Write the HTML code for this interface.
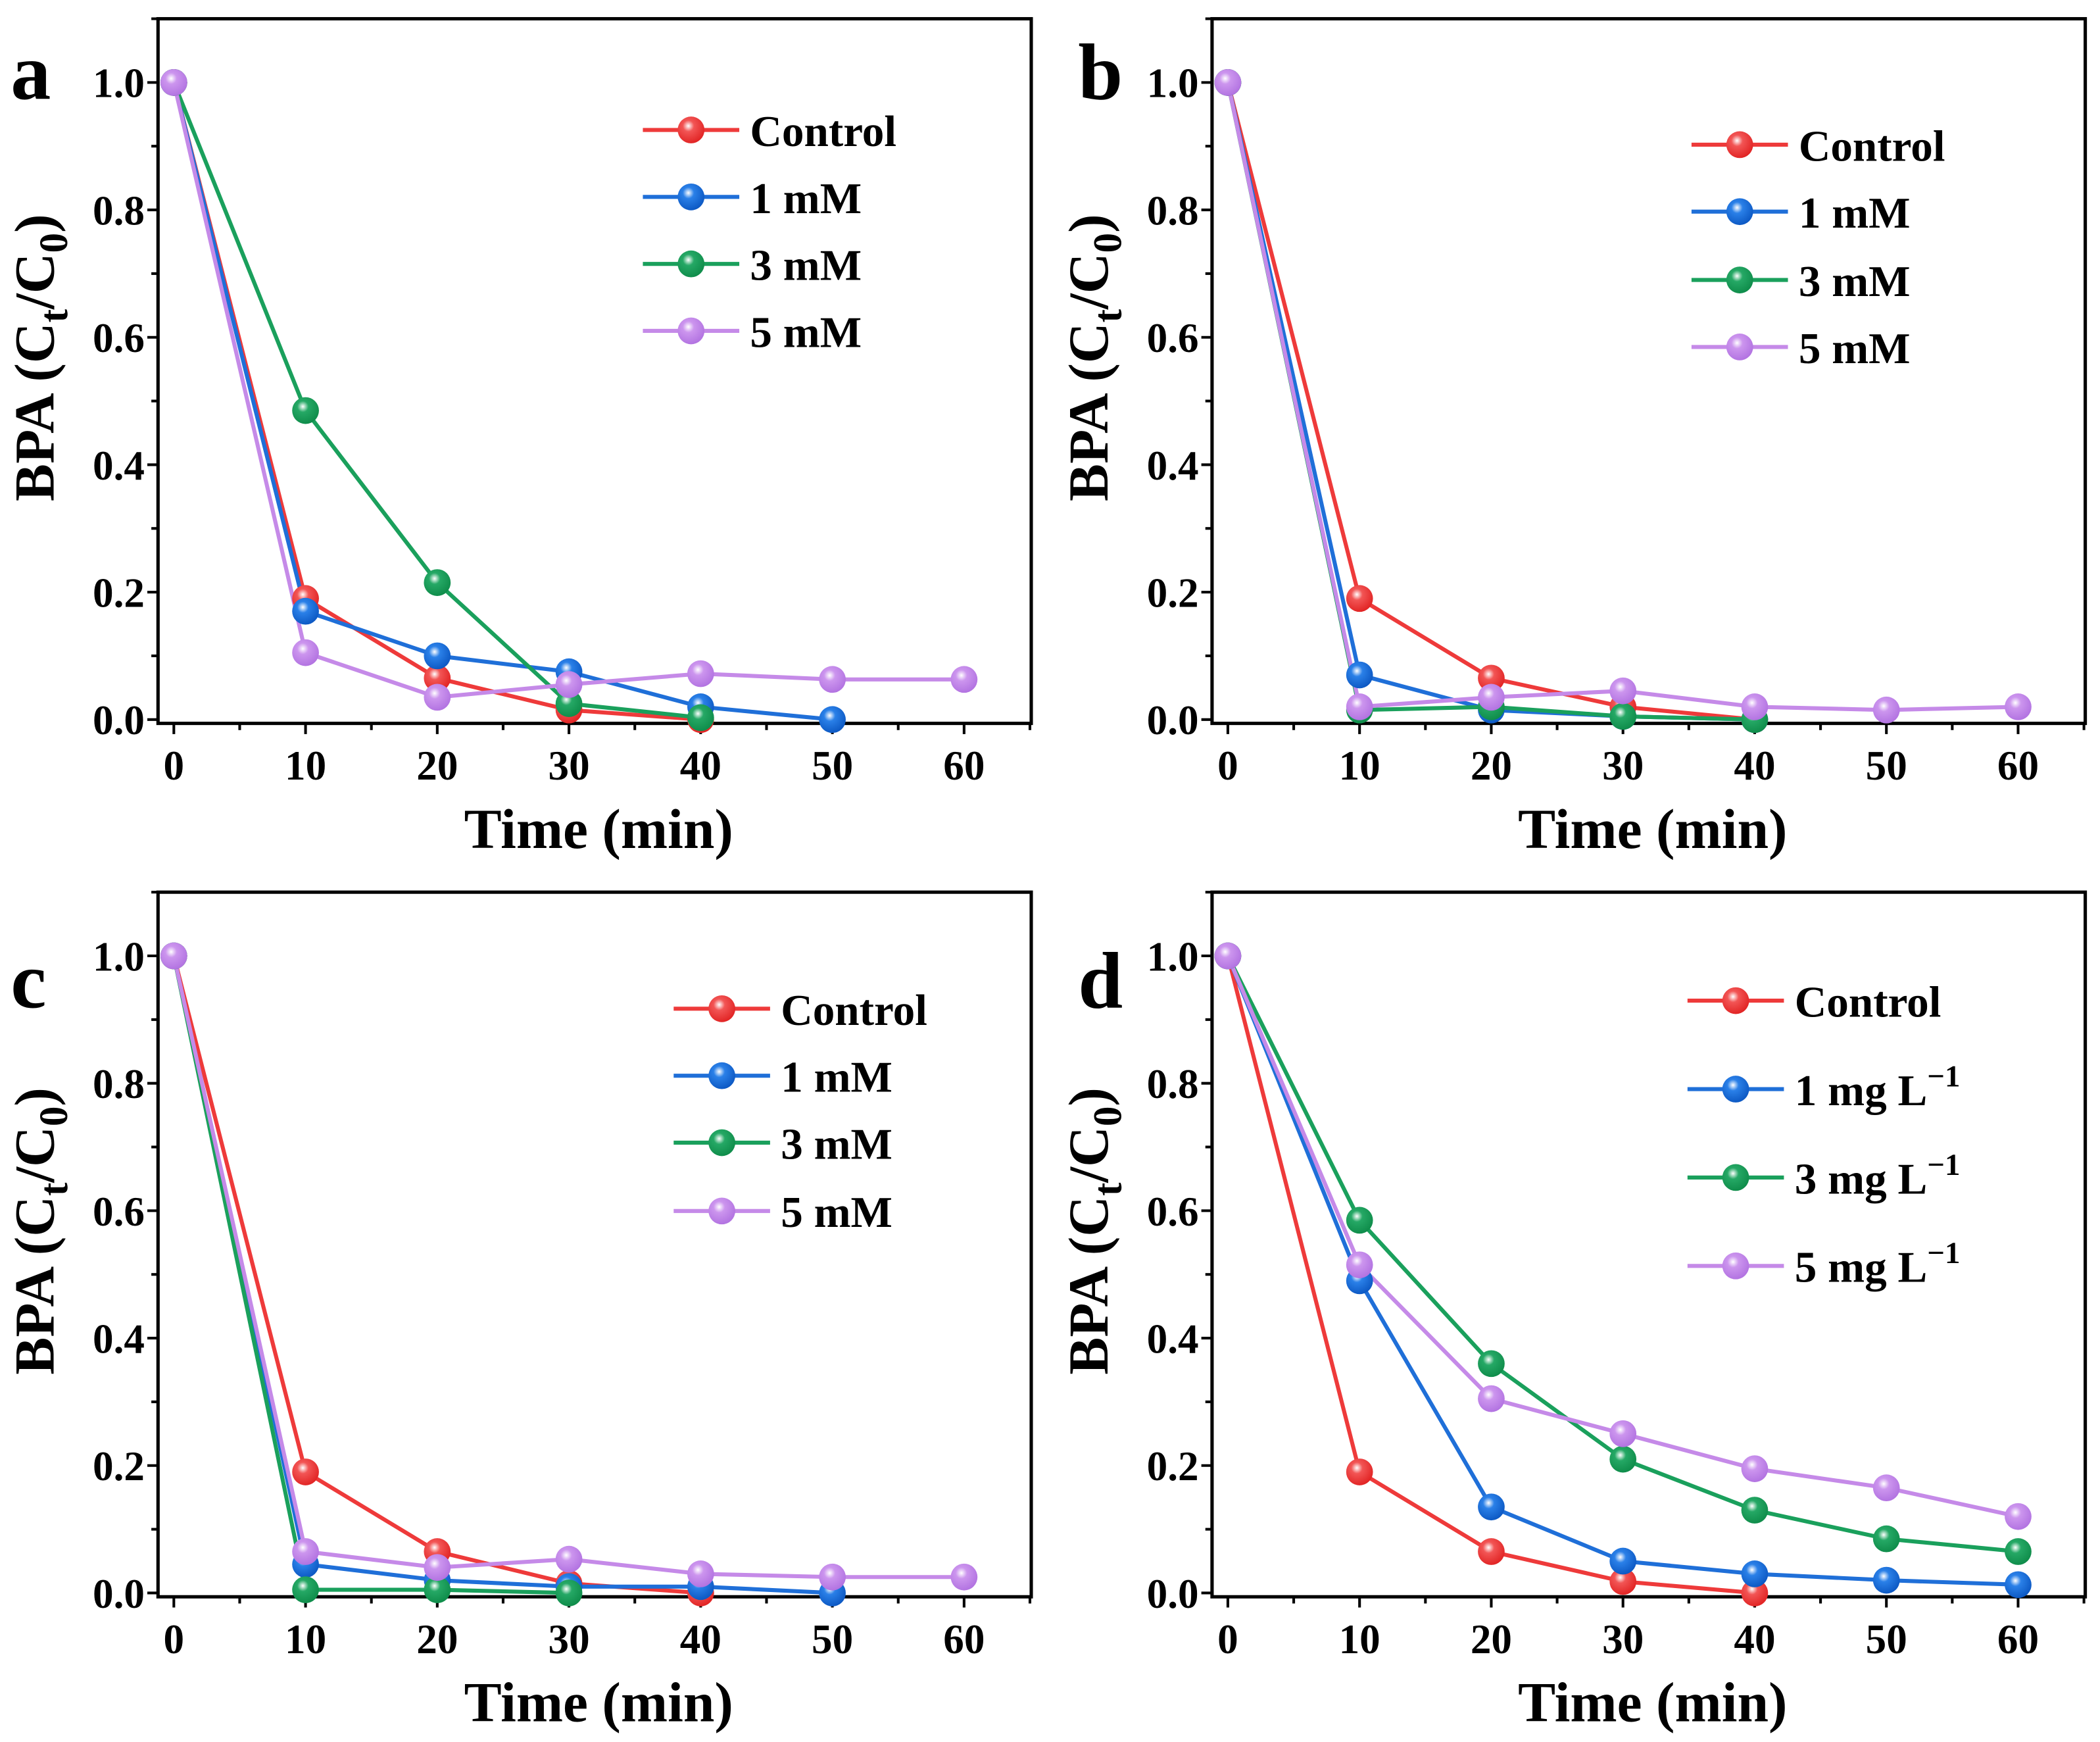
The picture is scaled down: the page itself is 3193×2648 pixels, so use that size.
<!DOCTYPE html>
<html><head><meta charset="utf-8"><style>
html,body{margin:0;padding:0;background:#fff}
svg{display:block}
text{font-family:"Liberation Serif",serif;font-weight:bold;fill:#000}
</style></head><body>
<svg id="fig" width="3193" height="2648" viewBox="0 0 1568 1300.4" preserveAspectRatio="none" xmlns="http://www.w3.org/2000/svg">
<defs>
<radialGradient id="gr" cx="0.4" cy="0.35" r="0.7"><stop offset="0" stop-color="#fff"/><stop offset="0.3" stop-color="#f25555"/><stop offset="1" stop-color="#e02020"/></radialGradient>
<radialGradient id="gb" cx="0.4" cy="0.35" r="0.7"><stop offset="0" stop-color="#fff"/><stop offset="0.3" stop-color="#2a80e8"/><stop offset="1" stop-color="#0a55c0"/></radialGradient>
<radialGradient id="gg" cx="0.4" cy="0.35" r="0.7"><stop offset="0" stop-color="#fff"/><stop offset="0.3" stop-color="#25a865"/><stop offset="1" stop-color="#0d8a48"/></radialGradient>
<radialGradient id="gp" cx="0.4" cy="0.35" r="0.7"><stop offset="0" stop-color="#fff"/><stop offset="0.3" stop-color="#cc95ee"/><stop offset="1" stop-color="#b070e0"/></radialGradient>
</defs>
</svg>
<script>
const times = [0,10,20,30,40,50,60];
const xTicks = [0,10,20,30,40,50,60];
const yTicks = [0,0.2,0.4,0.6,0.8,1.0];
const yTickLabels = ["0.0","0.2","0.4","0.6","0.8","1.0"];
const labelsMM = ["Control","1 mM","3 mM","5 mM"];
const labelsMG = ["Control","1 mg L","3 mg L","5 mg L"];
const aControl=[1,0.19,0.065,0.015,0];
const a1=[1,0.17,0.10,0.075,0.02,0];
const a3=[1,0.485,0.215,0.025,0.003];
const a5=[1,0.105,0.035,0.055,0.072,0.063,0.063];
const bControl=[1,0.19,0.065,0.02,0];
const b1=[1,0.07,0.015,0.005,0];
const b3=[1,0.015,0.02,0.005,0];
const b5=[1,0.02,0.035,0.045,0.02,0.015,0.02];
const cControl=[1,0.19,0.065,0.015,0];
const c1=[1,0.045,0.02,0.01,0.01,0];
const c3=[1,0.005,0.005,0];
const c5=[1,0.065,0.04,0.053,0.03,0.025,0.025];
const dControl=[1,0.19,0.065,0.018,0];
const d1=[1,0.49,0.135,0.05,0.03,0.02,0.013];
const d3=[1,0.585,0.36,0.21,0.13,0.085,0.065];
const d5=[1,0.515,0.305,0.25,0.195,0.165,0.12];

const NS="http://www.w3.org/2000/svg";
const svg=document.getElementById('fig');
const colors=["#ee3a3a","#1f6fd8","#1aa05c","#c58ae8"];
const grads=["url(#gr)","url(#gb)","url(#gg)","url(#gp)"];
function mk(tag,attrs,parent){const e=document.createElementNS(NS,tag);for(const k in attrs)e.setAttribute(k,attrs[k]);(parent||svg).appendChild(e);return e;}

const panels=[
 {id:'a',L:118,R:770,T:14,B:540,series:[aControl,a1,a3,a5],labels:labelsMM,sup:false,leg:{x:480,ys:[97,147,197,247]},letter:[8,74]},
 {id:'b',L:905,R:1557,T:14,B:540,series:[bControl,b1,b3,b5],labels:labelsMM,sup:false,leg:{x:1263,ys:[108,158,209,259]},letter:[805,74]},
 {id:'c',L:118,R:770,T:666,B:1192,series:[cControl,c1,c3,c5],labels:labelsMM,sup:false,leg:{x:503,ys:[753,803,853,904]},letter:[8,752]},
 {id:'d',L:905,R:1557,T:666,B:1192,series:[dControl,d1,d3,d5],labels:labelsMG,sup:true,leg:{x:1260,ys:[747,813,879,945]},letter:[805,752]}
];
panels.forEach(p=>{
  const g=mk('g',{});
  
  
  const xmin=-1.2,xmax=65.1,ymin=-0.006,ymax=1.1;
  const X=v=>p.L+(v-xmin)/(xmax-xmin)*(p.R-p.L);
  const Y=v=>p.B-(v-ymin)/(ymax-ymin)*(p.B-p.T);
  const box=mk('rect',{x:p.L,y:p.T,width:p.R-p.L,height:p.B-p.T,fill:'none',stroke:'#000','stroke-width':2.5},g);
  
  
  for(let v=0;v<=65;v+=5){
    const major=v%10===0;
    const t=mk('line',{x1:X(v),x2:X(v),y1:p.B,y2:p.B+(major?8:5),stroke:'#000','stroke-width':2},g);
    
    
  }
  xTicks.forEach(v=>{
    const t=mk('text',{x:X(v),y:p.B+42,'text-anchor':'middle','font-size':31},g);
    t.textContent=v;
    
    
  });
  for(let i=0;i<=11;i++){
    const v=i/10,major=i%2===0;
    const t=mk('line',{x1:p.L,x2:p.L-(major?8:5),y1:Y(v),y2:Y(v),stroke:'#000','stroke-width':2},g);
    
    
  }
  yTicks.forEach((v,i)=>{
    const t=mk('text',{x:p.L-10,y:Y(v)+11,'text-anchor':'end','font-size':31},g);
    t.textContent=yTickLabels[i];
    
    
  });
  const xt=mk('text',{x:(p.L+p.R)/2+3,y:p.B+93,'text-anchor':'middle','font-size':42},g);
  xt.textContent='Time (min)';
  
  
  const cy=(p.T+p.B)/2-10, cx=p.L-78;
  const yt=mk('text',{x:0,y:0,'text-anchor':'middle','font-size':42,transform:`translate(${cx},${cy}) rotate(-90)`},g);
  yt.innerHTML='BPA (C<tspan font-size="30" dy="10">t</tspan><tspan dy="-10">/C</tspan><tspan font-size="30" dy="10">0</tspan><tspan dy="-10">)</tspan>';
  
  
  const lt=mk('text',{x:p.letter[0],y:p.letter[1],'font-size':60},g);
  lt.textContent=p.id;
  
  
  p.series.forEach((s,k)=>{
    const pts=s.map((v,i)=>X(times[i])+','+Y(v)).join(' ');
    const pl=mk('polyline',{points:pts,fill:'none',stroke:colors[k],'stroke-width':3},g);
    
    
  });
  p.series.forEach((s,k)=>{
    s.forEach((v,i)=>{
      const c=mk('circle',{cx:X(times[i]),cy:Y(v),r:10,fill:grads[k]},g);
      
      
    });
  });
  p.labels.forEach((lab,k)=>{
    const y=p.leg.ys[k];
    const ln=mk('line',{x1:p.leg.x,x2:p.leg.x+72,y1:y,y2:y,stroke:colors[k],'stroke-width':3},g);
    
    
    const c=mk('circle',{cx:p.leg.x+36,cy:y,r:10,fill:grads[k]},g);
    
    
    const t=mk('text',{x:p.leg.x+80,y:y+12,'font-size':33},g);
    t.textContent=lab;
    if(p.sup&&k>0){const sp=mk('tspan',{dy:-14,'font-size':23},t);sp.textContent='−1';}
    
    
  });
});
</script>
</body></html>
